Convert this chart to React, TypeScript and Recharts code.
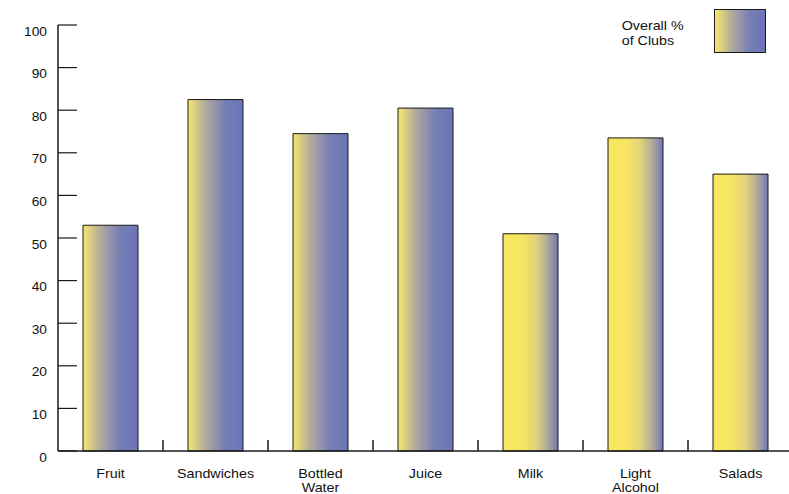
import { Bar, BarChart, Cell, Legend, XAxis, YAxis } from "recharts";

const categories = ["Fruit", "Sandwiches", "Bottled\nWater", "Juice", "Milk", "Light\nAlcohol", "Salads"];
const overallPct = [53, 82.5, 74.5, 80.5, 51, 73.5, 65];
const yTicks = [0, 10, 20, 30, 40, 50, 60, 70, 80, 90, 100];
const seriesLabel = ["Overall %", "of Clubs"];

const data = categories.map((name, i) => ({ name, value: overallPct[i] }));

const CHART_W = 799;
const CHART_H = 494;
const MARGIN = { top: 25, right: 6, left: 1, bottom: 0 };
const Y_AXIS_W = 57;
const X_AXIS_H = 43;
const BAND = (CHART_W - MARGIN.left - MARGIN.right - Y_AXIS_W) / categories.length;

const FONT = '"Liberation Sans", Arial, sans-serif';
const INK = "#1a1a1a";

function YTick({ x, y, payload }: any) {
  return (
    <g>
      <line x1={x + 11} x2={x + 30} y1={y} y2={y} stroke={INK} strokeWidth={1.2} />
      <text
        transform={`translate(${x},${y + 10.5}) scale(1.1,1)`}
        textAnchor="end"
        fontFamily={FONT}
        fontSize={12.5}
        fill="#111"
      >
        {payload.value}
      </text>
    </g>
  );
}

function XTick({ x, y, payload, index }: any) {
  const lines = String(payload.value).split("\n");
  return (
    <g>
      {index < categories.length - 1 && (
        <line x1={x + BAND / 2} x2={x + BAND / 2} y1={y - 11} y2={y} stroke={INK} strokeWidth={1.5} />
      )}
      <text
        transform={`translate(${x},${y + 27}) scale(1.1,1)`}
        textAnchor="middle"
        fontFamily={FONT}
        fontSize={13}
        fill="#111"
      >
        {lines.map((l, i) => (
          <tspan key={i} x={0} dy={i === 0 ? 0 : 14.5}>
            {l}
          </tspan>
        ))}
      </text>
    </g>
  );
}

function LegendBox() {
  return (
    <svg width={180} height={60} style={{ display: "block" }}>
      <defs>
        <linearGradient id="legGrad" x1="0" y1="0" x2="1" y2="0">
          <stop offset="0%" stopColor="#f7e664" />
          <stop offset="10%" stopColor="#e6d87a" />
          <stop offset="32%" stopColor="#b3ad99" />
          <stop offset="50%" stopColor="#9896aa" />
          <stop offset="68%" stopColor="#7680b3" />
          <stop offset="100%" stopColor="#6a74b8" />
        </linearGradient>
      </defs>
      {seriesLabel.map((l, i) => (
        <text
          key={i}
          transform={`translate(21.7,${30 + i * 15}) scale(1.1,1)`}
          fontFamily={FONT}
          fontSize={13}
          fill="#111"
        >
          {l}
        </text>
      ))}
      <rect x={114.5} y={9.5} width={51} height={43} fill="url(#legGrad)" stroke={INK} strokeWidth={1} />
    </svg>
  );
}

export default function App() {
  return (
    <div style={{ position: "absolute", left: 0, top: 0, width: 789, height: 494, overflow: "hidden", background: "#fff" }}>
      <BarChart width={CHART_W} height={CHART_H} data={data} margin={MARGIN}>
        <defs>
          <linearGradient id="gradBlue" x1="0" y1="0" x2="1" y2="0">
            <stop offset="0%" stopColor="#f7e664" />
            <stop offset="8%" stopColor="#e6d87a" />
            <stop offset="30%" stopColor="#b3ad99" />
            <stop offset="48%" stopColor="#9896aa" />
            <stop offset="66%" stopColor="#7680b3" />
            <stop offset="100%" stopColor="#6a74b8" />
          </linearGradient>
          <linearGradient id="gradYellow" x1="0" y1="0" x2="1" y2="0">
            <stop offset="0%" stopColor="#f9e85f" />
            <stop offset="35%" stopColor="#f6e463" />
            <stop offset="60%" stopColor="#e0d27c" />
            <stop offset="78%" stopColor="#b8af94" />
            <stop offset="90%" stopColor="#9292a8" />
            <stop offset="100%" stopColor="#6b74b6" />
          </linearGradient>
        </defs>
        <XAxis
          dataKey="name"
          height={X_AXIS_H}
          interval={0}
          tickSize={0}
          tickMargin={0}
          tickLine={false}
          axisLine={{ stroke: INK, strokeWidth: 1.5 }}
          tick={<XTick />}
        />
        <YAxis
          width={Y_AXIS_W}
          domain={[0, 100]}
          ticks={yTicks}
          interval={0}
          tickSize={0}
          tickMargin={11}
          tickLine={false}
          axisLine={{ stroke: INK, strokeWidth: 1.5 }}
          tick={<YTick />}
        />
        <Legend
          layout="horizontal"
          verticalAlign="middle"
          align="center"
          wrapperStyle={{ top: 0, left: 600, width: 180, height: 60 }}
          content={() => <LegendBox />}
        />
        <Bar dataKey="value" name="Overall % of Clubs" barSize={55} stroke={INK} strokeWidth={1} isAnimationActive={false}>
          {data.map((_, i) => (
            <Cell key={i} fill={i < 4 ? "url(#gradBlue)" : "url(#gradYellow)"} />
          ))}
        </Bar>
      </BarChart>
    </div>
  );
}
